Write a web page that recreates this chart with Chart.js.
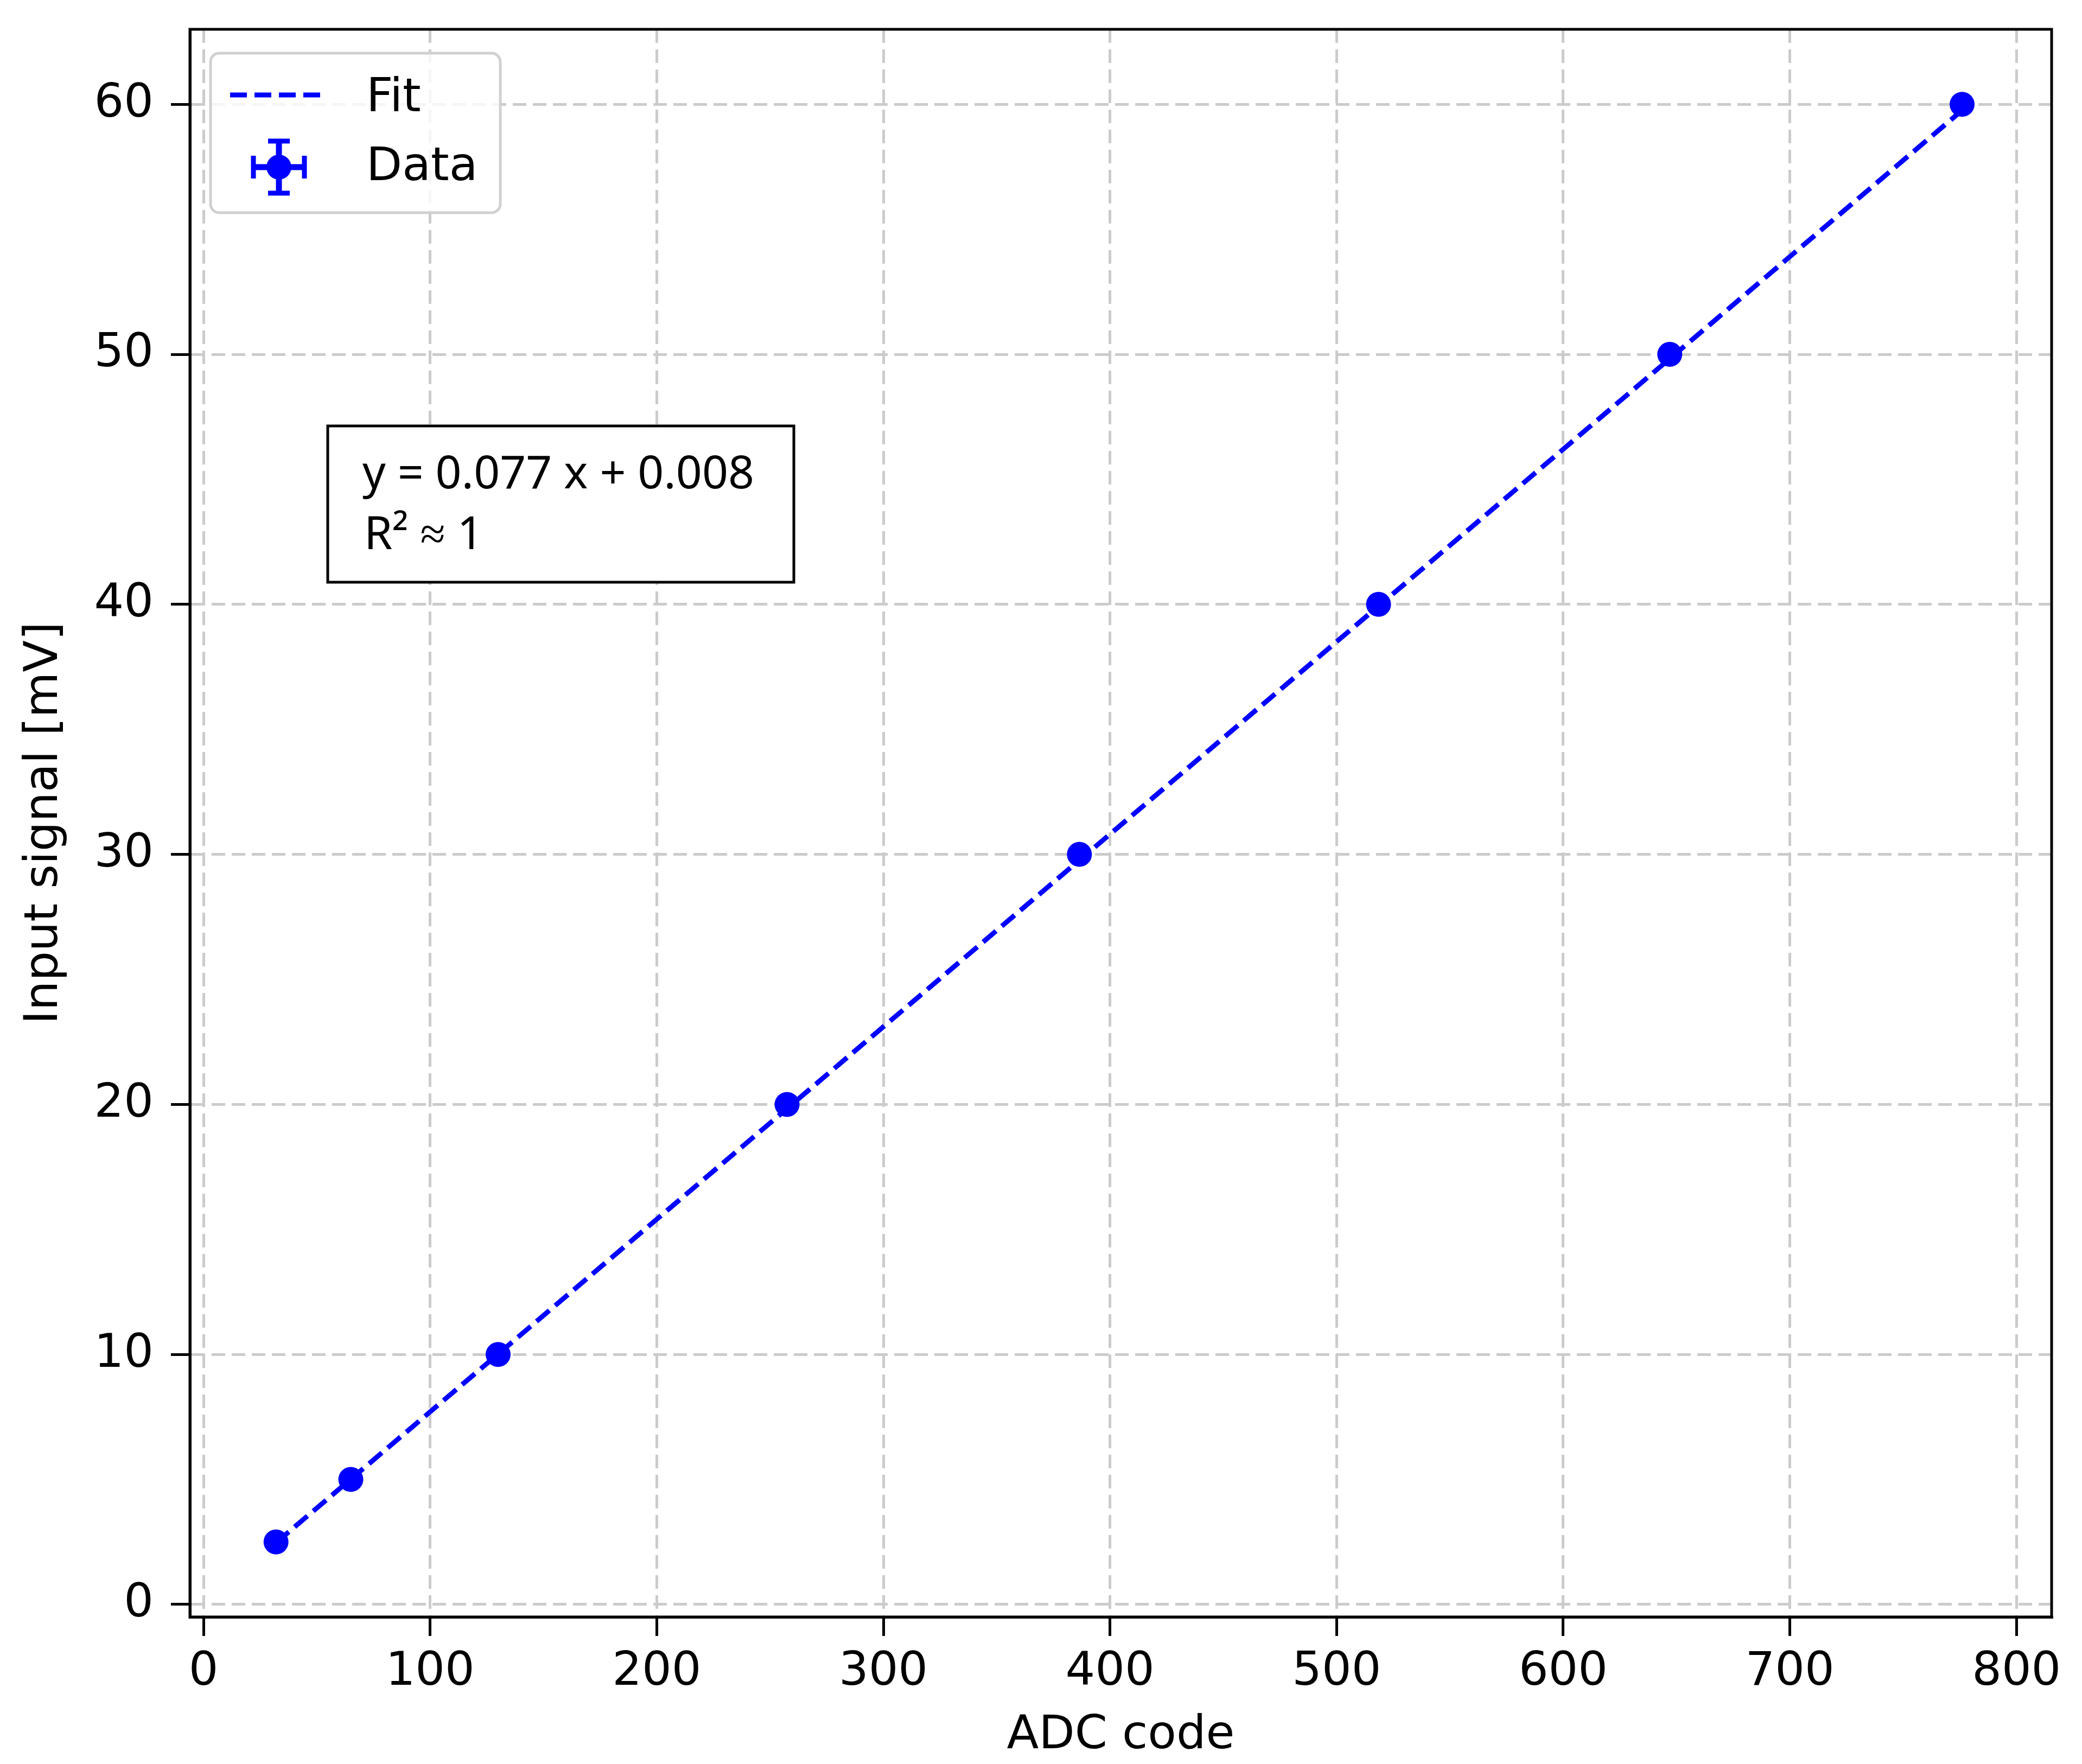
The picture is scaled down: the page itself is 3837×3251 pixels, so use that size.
<!DOCTYPE html>
<html>
<head>
<meta charset="utf-8">
<script src="https://cdn.jsdelivr.net/npm/chart.js@4.4.1/dist/chart.umd.min.js"></script>
<style>
    body { margin: 0; background: #ffffff; }
</style>
</head>
<body>
<canvas id="adcChart" width="3837" height="3251"></canvas>
<script>
// values
var adcCode = [32, 65, 130, 257.5, 386.5, 518.5, 647, 776];
var inputSignal = [2.5, 5, 10, 20, 30, 40, 50, 60];

// fitted line, drawn between first and last point
var fitX = [32, 776];
var fitY = [2.47, 59.76];

var xTicks = [0, 100, 200, 300, 400, 500, 600, 700, 800];
var yTicks = [0, 10, 20, 30, 40, 50, 60];

var fitLabel = "Fit";
var dataLabel = "Data";
var eqLine1 = "y = 0.077 x + 0.008";
var eqLine2 = "R\u00b2 \u2248 1";

var BLUE = '#0000ff';
var FONT = "'DejaVu Sans'";

/* build point lists for chart.js */
var dataPoints = [];
for (var i = 0; i < adcCode.length; ++i) {
    dataPoints.push({ x: adcCode[i], y: inputSignal[i] });
}
var fitPoints = [];
for (var j = 0; j < fitX.length; ++j) {
    fitPoints.push({ x: fitX[j], y: fitY[j] });
}

/* frame, equation box and legend are drawn on top */
var overlayPlugin = {
    id: 'overlay',
    afterDraw: function (chart) {
        var ctx = chart.ctx;
        var a = chart.chartArea;
        ctx.save();

        // plot frame
        ctx.strokeStyle = '#000';
        ctx.lineWidth = 5;
        ctx.strokeRect(a.left, a.top, a.right - a.left, a.bottom - a.top);

        // equation box
        var bx = a.left + 254, by = a.top + 731;
        ctx.fillStyle = '#fff';
        ctx.fillRect(bx, by, 859, 288);
        ctx.lineWidth = 5;
        ctx.strokeStyle = '#000';
        ctx.strokeRect(bx, by, 859, 288);
        ctx.fillStyle = '#000';
        ctx.font = "84px 'Noto Sans'";
        ctx.textBaseline = 'alphabetic';
        ctx.textAlign = 'left';
        ctx.fillText(eqLine1, bx + 64, by + 115);
        ctx.fillText(eqLine2, bx + 67, by + 227);

        // legend box
        var lx = a.left + 38, ly = a.top + 44;
        ctx.beginPath();
        ctx.roundRect(lx, ly, 534, 294, 16);
        ctx.fillStyle = 'rgba(255,255,255,0.8)';
        ctx.fill();
        ctx.strokeStyle = '#d0d0d0';
        ctx.lineWidth = 5;
        ctx.stroke();

        // Fit entry
        ctx.strokeStyle = BLUE;
        ctx.lineWidth = 9;
        ctx.setLineDash([31, 14]);
        ctx.beginPath();
        ctx.moveTo(lx + 36, ly + 77);
        ctx.lineTo(lx + 212, ly + 77);
        ctx.stroke();
        ctx.setLineDash([]);

        // Data entry: marker with x and y error bars
        var cx = lx + 126, cy = ly + 210;
        ctx.lineWidth = 11;
        ctx.beginPath();
        ctx.moveTo(cx - 47, cy); ctx.lineTo(cx + 47, cy);
        ctx.moveTo(cx, cy - 48); ctx.lineTo(cx, cy + 48);
        ctx.stroke();
        ctx.lineWidth = 9;
        ctx.beginPath();
        ctx.moveTo(cx - 20, cy - 48); ctx.lineTo(cx + 20, cy - 48);
        ctx.moveTo(cx - 20, cy + 48); ctx.lineTo(cx + 20, cy + 48);
        ctx.moveTo(cx - 47, cy - 21); ctx.lineTo(cx - 47, cy + 21);
        ctx.moveTo(cx + 47, cy - 21); ctx.lineTo(cx + 47, cy + 21);
        ctx.stroke();
        ctx.fillStyle = BLUE;
        ctx.beginPath();
        ctx.arc(cx, cy, 23, 0, Math.PI * 2);
        ctx.fill();

        ctx.fillStyle = '#000';
        ctx.font = "86px " + FONT;
        ctx.fillText(fitLabel, lx + 287, ly + 107);
        ctx.fillText(dataLabel, lx + 287, ly + 234);

        ctx.restore();
    }
};

var ctx = document.getElementById("adcChart");
var adcChart = new Chart(ctx, {
    type: 'scatter',
    data: {
        datasets: [{
            label: dataLabel,
            data: dataPoints,
            backgroundColor: BLUE,
            borderWidth: 0,
            pointRadius: 23,
            pointHoverRadius: 23
        }, {
            label: fitLabel,
            data: fitPoints,
            showLine: true,
            borderColor: BLUE,
            borderWidth: 9,
            borderDash: [31, 14],
            pointRadius: 0,
            fill: false
        }]
    },
    options: {
        responsive: false,
        animation: false,
        devicePixelRatio: 1,
        layout: {
            padding: { top: 54, right: 56, left: 0, bottom: 0 }
        },
        plugins: {
            legend: { display: false },
            tooltip: { enabled: false }
        },
        scales: {
            x: {
                type: 'linear',
                min: -6,
                max: 815.5,
                afterFit: function (scale) {
                    scale.height = 271;
                    scale.paddingLeft = 0;
                    scale.paddingRight = 0;
                },
                afterBuildTicks: function (scale) {
                    scale.ticks = xTicks.map(function (v) { return { value: v }; });
                },
                ticks: {
                    color: '#000',
                    font: { family: FONT, size: 86 },
                    padding: 16,
                    maxRotation: 0,
                    autoSkip: false
                },
                grid: {
                    color: '#cbcbcb',
                    lineWidth: 5,
                    tickColor: '#000',
                    tickWidth: 5,
                    tickLength: 35
                },
                border: { display: true, color: '#000', width: 5, dash: [25, 12] },
                title: {
                    display: true,
                    text: 'ADC code',
                    color: '#000',
                    font: { family: FONT, size: 86, lineHeight: 1.2 },
                    padding: { top: 0, bottom: 0 }
                }
            },
            y: {
                type: 'linear',
                min: -0.5,
                max: 63.0,
                afterFit: function (scale) {
                    scale.width = 350;
                    scale.paddingTop = 0;
                    scale.paddingBottom = 0;
                },
                afterBuildTicks: function (scale) {
                    scale.ticks = yTicks.map(function (v) { return { value: v }; });
                },
                ticks: {
                    color: '#000',
                    font: { family: FONT, size: 86 },
                    padding: 32,
                    autoSkip: false
                },
                grid: {
                    color: '#cbcbcb',
                    lineWidth: 5,
                    tickColor: '#000',
                    tickWidth: 5,
                    tickLength: 35
                },
                border: { display: true, color: '#000', width: 5, dash: [25, 12] },
                title: {
                    display: true,
                    text: 'Input signal [mV]',
                    color: '#000',
                    font: { family: FONT, size: 86, lineHeight: 1.2 },
                    padding: { top: 31, bottom: 0 }
                }
            }
        }
    },
    plugins: [overlayPlugin]
});
</script>
</body>
</html>
